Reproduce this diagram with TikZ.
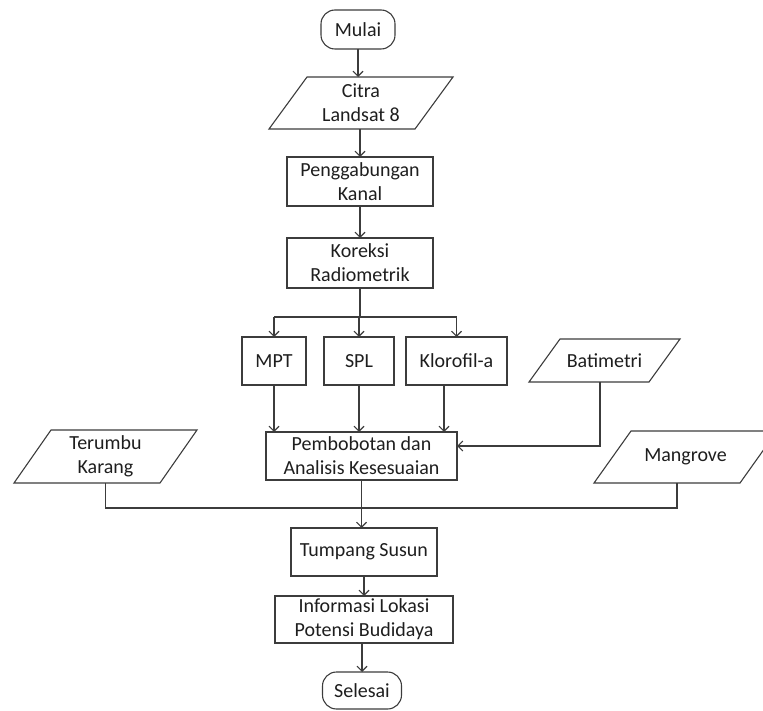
\documentclass[tikz,border=0pt]{standalone}
\usepackage{fontspec}
\setmainfont{Carlito}
\usetikzlibrary{arrows.meta,calc}
\definecolor{ln}{HTML}{3C3C3C}
\definecolor{tx}{HTML}{1E1E1E}
\begin{document}
\begin{tikzpicture}[x=1pt,y=1pt,
  every node/.style={inner sep=0pt,outer sep=0pt,text=tx,align=center,
    font=\fontsize{20}{24}\selectfont},
  box/.style={draw=ln,line width=1.1pt,rectangle,minimum width=#1},
  term/.style={draw=ln,line width=1.1pt,rounded corners=14pt,minimum width=#1},
  io/.style={rectangle,minimum width=#1},
  ln/.style={draw=ln,line width=1.1pt},
  arr/.style={ln,-{Straight Barb[length=5pt,width=10pt,line width=1.1pt]}}]
\useasboundingbox (0,0) rectangle (763,-711);
% nodes
\node[term=74, minimum height=39] (mulai) at (358,-29.5) {Mulai};
\node[io=184, minimum height=52] (citra) at (361,-103) {Citra\\Landsat 8};
\node[box=146, minimum height=49] (pengg) at (360,-181.5) {Penggabungan\\Kanal};
\node[box=146, minimum height=50] (kor) at (360,-263) {Koreksi\\Radiometrik};
\node[box=64, minimum height=48] (mpt) at (274,-361) {MPT};
\node[box=70, minimum height=48] (spl) at (359,-361) {SPL};
\node[box=101, minimum height=48] (klo) at (456.5,-361) {Klorofil-a};
\node[io=151, minimum height=43] (bat) at (604.5,-360.5) {Batimetri};
\node[box=191, minimum height=48] (pemb) at (361.5,-456) {Pembobotan dan\\Analisis Kesesuaian};
\node[io=183, minimum height=53] (ter) at (105.5,-456.5) {Terumbu\\Karang};
\node[io=183, minimum height=52] (mang) at (685.5,-457) {Mangrove};
\node[box=146, minimum height=48] (tump) at (364,-552) {Tumpang Susun};
\node[box=178, minimum height=47] (info) at (364,-619.5) {Informasi Lokasi\\Potensi Budidaya};
\node[term=79, minimum height=37] (sel) at (362,-690.5) {Selesai};
% parallelogram outlines
\foreach \n/\s in {citra/38,bat/31,ter/37,mang/37}{
  \draw[ln] ($(\n.north west)+(\s,0)$) -- (\n.north east)
    -- ($(\n.south east)-(\s,0)$) -- (\n.south west) -- cycle;
}
\coordinate (klo-out) at ($(klo.south)+(-12.5,0)$);
\coordinate (bat-out) at ($(bat.south)+(-4.5,0)$);
\coordinate (pemb-in) at ($(pemb.east)+(0,10)$);
\coordinate (mang-out) at ($(mang.south)+(-8.5,0)$);
% main flow
\draw[arr] (mulai.south) -- (mulai.south |- citra.north);
\draw[arr] (citra.south -| pengg.north) -- (pengg.north);
\draw[arr] (pengg.south) -- (kor.north);
\draw[ln] (kor.south) -- ++(0,-29) coordinate (br);
\draw[ln] (br -| mpt.north) -- (br -| klo.north);
\draw[arr] (br -| mpt.north) -- (mpt.north);
\draw[arr] (br -| spl.north) -- (spl.north);
\draw[arr] (br -| klo.north) -- (klo.north);
\draw[arr] (mpt.south) -- (mpt.south |- pemb.north);
\draw[arr] (spl.south) -- (spl.south |- pemb.north);
\draw[arr] (klo-out) -- (klo-out |- pemb.north);
\draw[arr] (bat-out) |- (pemb-in);
\draw[ln] (ter.south) -- ++(0,-25) coordinate (hl) -| (mang-out);
\draw[arr] (pemb.south) -- (pemb.south |- tump.north);
\draw[arr] (tump.south) -- (tump.south |- info.north);
\draw[arr] (info.south -| sel.north) -- (sel.north);
\end{tikzpicture}
\end{document}
